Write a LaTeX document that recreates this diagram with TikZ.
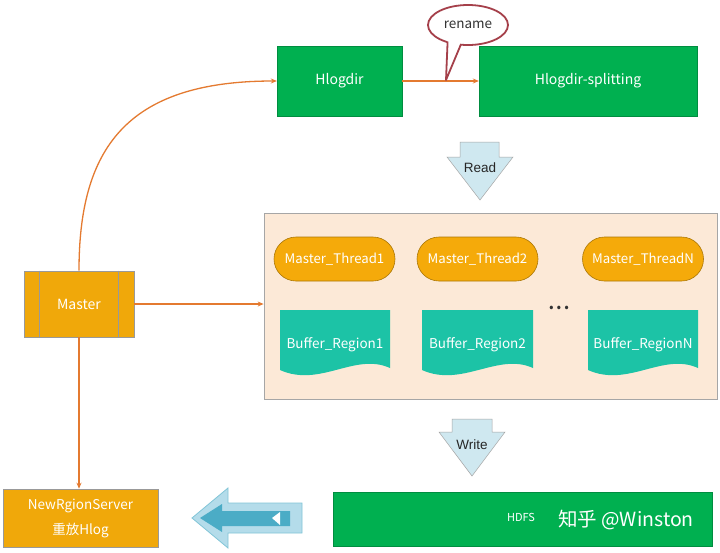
\documentclass[tikz,border=0pt]{standalone}
\usepackage{fontspec}
\setmainfont{Noto Sans CJK SC}
\newfontfamily\arialf{Liberation Sans}
\usetikzlibrary{shapes.geometric,shapes.misc,arrows.meta,calc}
\definecolor{cgreen}{RGB}{0,176,80}
\definecolor{corange}{RGB}{240,168,10}
\definecolor{cpill}{RGB}{245,170,10}
\definecolor{cteal}{RGB}{28,195,166}
\definecolor{cpeach}{RGB}{252,233,215}
\definecolor{cline}{RGB}{228,122,48}
\definecolor{cread}{RGB}{207,232,240}
\definecolor{cbout}{RGB}{180,220,234}
\definecolor{cbin}{RGB}{75,172,198}
\definecolor{cred}{RGB}{165,64,74}
\tikzset{
  gbox/.style={rectangle, fill=cgreen, draw=cgreen!80!black, line width=0.4pt, text=white, font=\fontsize{14}{16}\selectfont},
  mbox/.style={rectangle, fill=corange, draw=gray!80, line width=0.6pt, text=white, font=\fontsize{14}{16}\selectfont},
  pill/.style={rounded rectangle, fill=cpill, draw=cpill!70!black, line width=0.6pt, text=white, minimum width=121pt, minimum height=44pt, inner sep=0pt, font=\fontsize{13.2}{15}\selectfont},
  btext/.style={text=white, font=\fontsize{13.5}{15}\selectfont},
  conn/.style={draw=cline, line width=1.3pt, -{Stealth[length=6pt,width=5pt]}},
  blockarrow/.style={fill=cread, draw=gray!70, line width=0.5pt},
  arrtext/.style={text=black!85, font=\arialf\fontsize{13.5}{15}\selectfont},
}
\newcommand{\bufdoc}[3]{% x1, x2, name
  \fill[cteal] (#1,310) -- (#2,310) -- (#2,368)
    .. controls ({#2-35},352) and ({#1+40},388) .. (#1,370) -- cycle;
}
\begin{document}
\begin{tikzpicture}[x=1pt,y=-1pt]
\useasboundingbox (0,0) rectangle (720,552);
\fill[white] (0,0) rectangle (720,552);

% top boxes
\node[gbox, minimum width=125pt, minimum height=70pt] (hlog) at (339.5,81) {Hlogdir};
\node[gbox, minimum width=218pt, minimum height=70pt] (split) at (588,81) {Hlogdir-splitting};
\draw[conn] (hlog.east) -- (split.west);

% rename callout
\node[ellipse, draw=cred, line width=1.8pt, fill=white, minimum width=80pt, minimum height=40pt, inner sep=0pt, text=black!80, font=\fontsize{13.5}{15}\selectfont] (rename) at (468,25) {rename};
\fill[white] (447.5,39) -- (446,80) -- (461.5,40.5) -- cycle;
\draw[cred, line width=1.8pt, line join=round] (447.6,41.5) -- (446,80) -- (461,44.2);

% Read arrow
\draw[blockarrow] (460,142) -- (499,142) -- (499,157) -- (513,157) -- (480,200) -- (447,157) -- (460,157) -- cycle;
\node[arrtext] (read) at (480,168) {Read};

% container
\node[rectangle, fill=cpeach, draw=gray!70, line width=0.8pt, minimum width=453pt, minimum height=186pt] (cont) at (490.5,306) {};

% threads
\node[pill] (t1) at (334.5,259) {Master\_Thread1};
\node[pill] (t2) at (477.5,259) {Master\_Thread2};
\node[pill] (tn) at (643,259) {Master\_ThreadN};

% buffers
\bufdoc{280}{390}{b1}
\bufdoc{422}{533}{b2}
\bufdoc{588}{698}{bn}
\node[btext] (b1) at (335,345) {Buffer\_Region1};
\node[btext] (b2) at (477.5,345) {Buffer\_Region2};
\node[btext] (bn) at (643,345) {Buffer\_RegionN};
\node[text=black!80, font=\bfseries\fontsize{16}{18}\selectfont, inner sep=0pt] (dots) at (559,308) {.\kern2pt.\kern2pt.};

% Master
\node[mbox, minimum width=110pt, minimum height=66pt] (master) at (79,304) {Master};
\draw[gray!80, line width=0.6pt] ([xshift=16pt]master.north west) -- ([xshift=16pt]master.south west);
\draw[gray!80, line width=0.6pt] ([xshift=-16pt]master.north east) -- ([xshift=-16pt]master.south east);

% NewRgionServer
\node[mbox, minimum width=155pt, minimum height=58pt, align=center, font=\fontsize{13.5}{25}\selectfont] (nrs) at (80.5,518) {NewRgionServer\\重放Hlog};

% connectors from master
\draw[conn] (master.north) .. controls (79,150) and (125,81) .. (hlog.west);
\draw[conn] (master.east) -- (master.east -| cont.west);
\draw[conn] (master.south) -- (master.south |- nrs.north);

% Write arrow
\draw[blockarrow] (452,419) -- (492,419) -- (492,432) -- (505,432) -- (472,476) -- (439,432) -- (452,432) -- cycle;
\node[arrtext] (write) at (472,445) {Write};

% HDFS
\node[gbox, minimum width=379pt, minimum height=54pt] (hdfs) at (522.5,519) {};
\node[text=white, font=\fontsize{11}{12}\selectfont] (hdfslabel) at (521,517) {HDFS};
\node[text=white, font=\fontsize{19.5}{22}\selectfont] (wm) at (626,520) {知乎 @Winston};

% big left arrow
\draw[fill=cbout, draw=cbin!70, line width=0.8pt] (192,518) -- (228,488) -- (228,503) -- (302,503) -- (302,533) -- (228,533) -- (228,548) -- cycle;
\fill[cbin] (200,518) -- (222,504) -- (222,511) -- (290,511) -- (290,526) -- (222,526) -- (222,532) -- cycle;
\fill[white] (272,518) -- (280,512) -- (280,525) -- cycle;
\end{tikzpicture}
\end{document}
